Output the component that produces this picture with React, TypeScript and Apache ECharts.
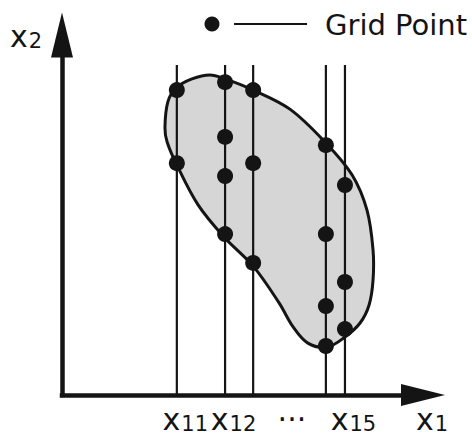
import React, { useEffect, useRef } from "react";
import * as echarts from "echarts";

// Grid lines (x positions of x11 ... x15) in data units
const gridX = [31.9, 45.3, 53.1, 73.3, 78.6];
const lineTop = 91.7;

// Grid points on each line (x2 values)
const pointsX11 = [84.7, 64.4];
const pointsX12 = [86.9, 71.7, 60.8, 44.7];
const pointsX13 = [84.7, 64.4, 36.7];
const pointsX14 = [69.4, 44.7, 24.7, 13.6];
const pointsX15 = [58.3, 31.4, 18.3];
const pointGroups = [pointsX11, pointsX12, pointsX13, pointsX14, pointsX15];

// Region outline (closed)
const outlineX = [28.6, 29.4, 31.7, 36.1, 41.1, 45.3, 53.1, 63.3, 73.3, 80.6, 84.7, 86.4, 86.4, 85.3, 82.8, 78.6, 73.6, 68.3, 64.2, 60.3, 53.1, 45.0, 37.8, 31.9, 29.2];
const outlineY = [74.2, 81.4, 85.3, 87.8, 88.9, 87.8, 84.7, 79.4, 70.0, 61.1, 51.4, 40.3, 31.9, 25.0, 20.0, 16.1, 13.3, 14.4, 18.9, 25.6, 35.8, 43.9, 52.8, 63.9, 70.3];

// Axis tick labels
const tickValues = [31.9, 45.3, 61.5, 78.6];
const tickMain = ["x", "x", "···", "x"];
const tickSub = ["11", "12", "", "15"];

const FONT = "DejaVu Sans";
const INK = "#141414";

const richStyles = {
  x: { fontFamily: FONT, fontSize: 30, lineHeight: 30, verticalAlign: "top", color: INK },
  s: { fontFamily: FONT, fontSize: 21, lineHeight: 21, padding: [17, 0, 0, 1], verticalAlign: "bottom", color: INK },
  d: { fontFamily: FONT, fontSize: 30, lineHeight: 30, verticalAlign: "top", color: INK },
};

export default function App() {
  const ref = useRef<HTMLDivElement>(null);
  useEffect(() => {
    if (!ref.current) return;
    const chart = echarts.init(ref.current, null, { renderer: "svg" });
    const scatterData: number[][] = [];
    pointGroups.forEach((ys, i) => ys.forEach((y) => scatterData.push([gridX[i], y])));
    const option: any = {
      animation: false,
      backgroundColor: "#ffffff",
      grid: { left: 62, top: 35, width: 360, height: 360, outerBoundsMode: "none" },
      xAxis: {
        type: "value",
        min: 0,
        max: 100,
        splitLine: { show: false },
        axisTick: { show: false },
        axisLine: {
          show: true,
          lineStyle: { color: INK, width: 4.5, cap: "square" },
          symbol: ["none", "triangle"],
          symbolSize: [22, 44],
          symbolOffset: [0, 1],
        },
        axisLabel: {
          show: true,
          customValues: tickValues,
          margin: 9,
          padding: [0, 0, 0, 17],
          formatter: (v: number) => {
            const i = tickValues.findIndex((t) => Math.abs(t - v) < 1e-6);
            if (i < 0) return "";
            if (!tickSub[i]) return "{d|" + tickMain[i] + "}";
            return "{x|" + tickMain[i] + "}{s|" + tickSub[i] + "}";
          },
          rich: richStyles,
        },
        name: "{x|x}{s|1}",
        nameLocation: "end",
        nameGap: -6,
        nameTextStyle: { align: "left", verticalAlign: "top", padding: [9, 0, 0, 0], rich: richStyles },
      },
      yAxis: {
        type: "value",
        min: 0,
        max: 100,
        splitLine: { show: false },
        axisTick: { show: false },
        axisLabel: { show: false },
        axisLine: {
          show: true,
          lineStyle: { color: INK, width: 4.5, cap: "square" },
          symbol: ["none", "triangle"],
          symbolSize: [22, 45],
        },
        name: "{x|x}{s|2}",
        nameLocation: "end",
        nameGap: -1,
        nameTextStyle: { align: "right", verticalAlign: "middle", padding: [0, 20, 0, 0], rich: richStyles },
      },
      graphic: [
        { type: "circle", shape: { cx: 212, cy: 24, r: 7.5 }, style: { fill: INK } },
        { type: "line", shape: { x1: 234, y1: 24, x2: 307, y2: 24 }, style: { stroke: INK, lineWidth: 2 } },
        {
          type: "text",
          x: 325,
          y: 24.5,
          style: { text: "Grid Point", fontFamily: FONT, fontSize: 29, fill: INK, verticalAlign: "middle", align: "left" },
        },
      ],
      series: [
        {
          type: "custom",
          name: "Region",
          data: outlineX.map((x, i) => [x, outlineY[i]]),
          encode: { x: 0, y: 1 },
          z: 1,
          renderItem: (params: any, api: any) => {
            if (params.dataIndex !== 0) return null;
            const pts = outlineX.map((x, i) => api.coord([x, outlineY[i]]));
            return {
              type: "polygon",
              shape: { points: pts, smooth: 0.35 },
              style: { fill: "#d6d6d6", stroke: INK, lineWidth: 3 },
            };
          },
        },
        {
          type: "custom",
          name: "Grid Lines",
          data: gridX.map((x) => [x, lineTop]),
          encode: { x: 0, y: 1 },
          z: 2,
          renderItem: (params: any, api: any) => {
            const x = api.value(0);
            const p0 = api.coord([x, 0]);
            const p1 = api.coord([x, api.value(1)]);
            return {
              type: "line",
              shape: { x1: p0[0], y1: p0[1], x2: p1[0], y2: p1[1] },
              style: { stroke: INK, lineWidth: 2.2 },
            };
          },
        },
        {
          type: "scatter",
          name: "Grid Point",
          data: scatterData,
          symbol: "circle",
          symbolSize: 16,
          itemStyle: { color: INK, opacity: 1 },
          z: 3,
        },
      ],
    };
    chart.setOption(option);
    return () => chart.dispose();
  }, []);
  return <div ref={ref} style={{ position: "fixed", left: 0, top: 0, width: 472, height: 438 }} />;
}
